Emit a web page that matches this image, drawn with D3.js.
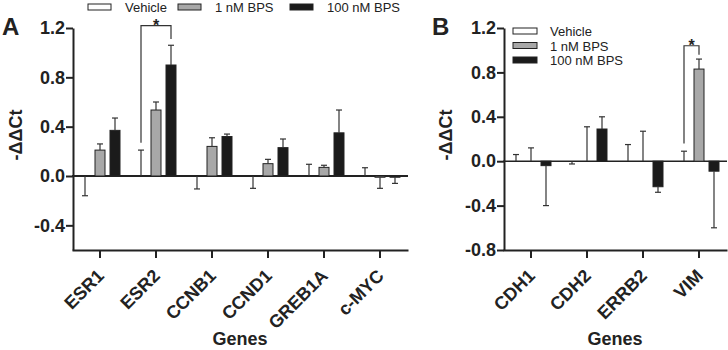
<!DOCTYPE html>
<html lang="en">
<head>
<meta charset="UTF-8">
<title>BPS gene expression</title>
<style>
  html, body { margin: 0; padding: 0; background: #fff; }
  svg text { font-family: "Liberation Sans", Arial, sans-serif; fill: #222; }
</style>
</head>
<body>
<div id="chart"></div>
<script src="https://cdn.jsdelivr.net/npm/d3@7"></script>
<script>
// ---- data ----
const series = ["Vehicle", "1 nM BPS", "100 nM BPS"]

const genesA = ["ESR1", "ESR2", "CCNB1", "CCND1", "GREB1A", "c-MYC"]
const vehicleA = [0, 0, 0, 0, 0, 0]
const vehicleErrA = [-0.16, 0.21, -0.105, -0.10, 0.095, 0.067]
const bps1A = [0.21, 0.535, 0.24, 0.10, 0.07, -0.01]
const bps1ErrA = [0.05, 0.065, 0.07, 0.035, 0.017, -0.09]
const bps100A = [0.37, 0.90, 0.32, 0.23, 0.35, -0.01]
const bps100ErrA = [0.10, 0.16, 0.02, 0.07, 0.185, -0.05]
const ticksA = [-0.4, 0.0, 0.4, 0.8, 1.2]

const genesB = ["CDH1", "CDH2", "ERRB2", "VIM"]
const vehicleB = [0, 0, 0, 0]
const vehicleErrB = [0.06, -0.025, 0.15, 0.09]
const bps1B = [0, 0, 0, 0.83]
const bps1ErrB = [0.12, 0.31, 0.27, 0.09]
const bps100B = [-0.04, 0.29, -0.23, -0.09]
const bps100ErrB = [-0.36, 0.11, -0.05, -0.51]
const ticksB = [-0.8, -0.4, 0.0, 0.4, 0.8, 1.2]

const fills = {"Vehicle": "#ffffff", "1 nM BPS": "#a8a8a8", "100 nM BPS": "#1b1b1b"}
const ink = "#222"

const width = 728, height = 350

const svg = d3.select("#chart").append("svg")
    .attr("width", width)
    .attr("height", height)

let buildRows = function(genes, means, errs) {
    let rows = []
    genes.forEach((g, i) => {
        series.forEach((s, j) => {
            rows.push({gene: g, series: s, mean: means[j][i], err: errs[j][i]})
        })
    })
    return rows
}

let drawPanel = function(cfg) {
    const y = d3.scaleLinear().domain(cfg.yDomain).range([250, 28])
    const x = d3.scaleBand().domain(cfg.genes).range(cfg.xRange)
    const inner = d3.scaleBand().domain(series).range([0, 45])
        .paddingInner(1/3).paddingOuter(1/6)
    const off = (x.bandwidth() - 45) / 2

    const g = svg.append("g")

    // zero line
    g.append("line")
        .attr("x1", cfg.xRange[0]).attr("x2", cfg.xRange[1])
        .attr("y1", y(0)).attr("y2", y(0))
        .attr("stroke", ink).attr("stroke-width", cfg.zeroWidth)

    const rows = buildRows(cfg.genes, cfg.means, cfg.errs)

    g.selectAll(".bar")
        .data(rows)
        .join("rect")
        .attr("class", "bar")
        .attr("x", d => x(d.gene) + off + inner(d.series))
        .attr("width", inner.bandwidth())
        .attr("y", d => y(Math.max(0, d.mean)))
        .attr("height", d => Math.abs(y(d.mean) - y(0)))
        .attr("fill", d => fills[d.series])
        .attr("stroke", ink)
        .attr("stroke-width", 1)

    // error bars
    const eb = g.selectAll(".err")
        .data(rows)
        .join("g")
        .attr("class", "err")
        .attr("transform", d => `translate(${x(d.gene) + off + inner(d.series) + inner.bandwidth()/2},0)`)
    eb.append("line")
        .attr("y1", d => y(d.mean)).attr("y2", d => y(d.mean + d.err))
        .attr("stroke", "#333").attr("stroke-width", 1.2)
    eb.append("line")
        .attr("x1", -3).attr("x2", 3)
        .attr("y1", d => y(d.mean + d.err)).attr("y2", d => y(d.mean + d.err))
        .attr("stroke", "#333").attr("stroke-width", 1.2)

    // significance bracket
    const br = cfg.bracket
    const bx1 = x(br.gene) + off + inner(br.from) + inner.bandwidth()/2
    const bx2 = x(br.gene) + off + inner(br.to) + inner.bandwidth()/2
    const by = y(br.top)
    g.append("path")
        .attr("d", `M${bx1},${y(br.left)}V${by}H${bx2}V${y(br.right)}`)
        .attr("fill", "none").attr("stroke", "#333").attr("stroke-width", 1.2)
    g.append("text")
        .attr("x", (bx1 + bx2)/2).attr("y", by + 5)
        .attr("text-anchor", "middle")
        .style("font-size", "16px").style("font-weight", "bold")
        .text("*")

    // y axis
    const yAxis = g.append("g")
        .attr("transform", `translate(${cfg.xRange[0] + 1},0)`)
        .call(d3.axisLeft(y).tickValues(cfg.ticks).tickSize(7).tickSizeOuter(0)
            .tickFormat(d => d.toFixed(1)))
    yAxis.select(".domain").attr("stroke", ink).attr("stroke-width", 2)
    yAxis.selectAll(".tick line").attr("stroke", ink).attr("stroke-width", 2)
    yAxis.selectAll(".tick text")
        .attr("x", -8)
        .style("font-size", "18px").style("font-weight", "bold")
        .style("font-family", "'Liberation Sans', Arial, sans-serif")
        .attr("fill", ink)

    // x axis
    const xAxis = g.append("g")
        .attr("transform", `translate(0,250)`)
        .call(d3.axisBottom(x).tickSize(8).tickSizeOuter(0))
    xAxis.select(".domain").attr("stroke", ink).attr("stroke-width", 2)
    xAxis.selectAll(".tick line").attr("stroke", ink).attr("stroke-width", 2)
    xAxis.selectAll(".tick text")
        .attr("x", 0).attr("y", 0).attr("dy", 0)
        .attr("transform", "translate(5,27) rotate(-45)")
        .attr("text-anchor", "end")
        .style("font-size", "18px").style("font-weight", "bold")
        .style("font-family", "'Liberation Sans', Arial, sans-serif")
        .attr("fill", ink)

    g.append("text")
        .attr("x", (cfg.xRange[0] + cfg.xRange[1]) / 2).attr("y", 345)
        .attr("text-anchor", "middle")
        .style("font-size", "18px").style("font-weight", "bold")
        .text("Genes")

    g.append("text")
        .attr("transform", `translate(${cfg.yLabelX},135) rotate(-90)`)
        .attr("text-anchor", "middle")
        .style("font-size", "18px").style("font-weight", "bold")
        .text("-ΔΔCt")

    g.append("text")
        .attr("x", cfg.letterX).attr("y", 35)
        .style("font-size", "24px").style("font-weight", "bold")
        .text(cfg.letter)

    return g
}

drawPanel({
    letter: "A", letterX: 2, yLabelX: 22, zeroWidth: 2,
    genes: genesA, xRange: [72, 408], yDomain: [-0.6, 1.2], ticks: ticksA,
    means: [vehicleA, bps1A, bps100A],
    errs: [vehicleErrA, bps1ErrA, bps100ErrA],
    bracket: {gene: "ESR2", from: "Vehicle", to: "100 nM BPS", top: 1.22, left: 0.27, right: 1.11}
})

drawPanel({
    letter: "B", letterX: 432, yLabelX: 452, zeroWidth: 1.6,
    genes: genesB, xRange: [503, 727], yDomain: [-0.8, 1.2], ticks: ticksB,
    means: [vehicleB, bps1B, bps100B],
    errs: [vehicleErrB, bps1ErrB, bps100ErrB],
    bracket: {gene: "VIM", from: "Vehicle", to: "1 nM BPS", top: 1.04, left: 0.16, right: 0.96}
})

// legend A (horizontal, above panel A)
const legA = svg.append("g")
const legAx = [88, 178, 290]
series.forEach((s, i) => {
    legA.append("rect")
        .attr("x", legAx[i]).attr("y", 4).attr("width", 23).attr("height", 6)
        .attr("fill", fills[s]).attr("stroke", ink).attr("stroke-width", 1)
    legA.append("text")
        .attr("x", legAx[i] + 37).attr("y", 12)
        .style("font-size", "13px")
        .text(s)
})

// legend B (stacked, inside panel B)
const legB = svg.append("g")
series.forEach((s, i) => {
    legB.append("rect")
        .attr("x", 513).attr("y", 28 + i * 14.5).attr("width", 24).attr("height", 6)
        .attr("fill", fills[s]).attr("stroke", ink).attr("stroke-width", 1)
    legB.append("text")
        .attr("x", 550).attr("y", 36 + i * 14.5)
        .style("font-size", "13px")
        .text(s)
})
</script>
</body>
</html>
